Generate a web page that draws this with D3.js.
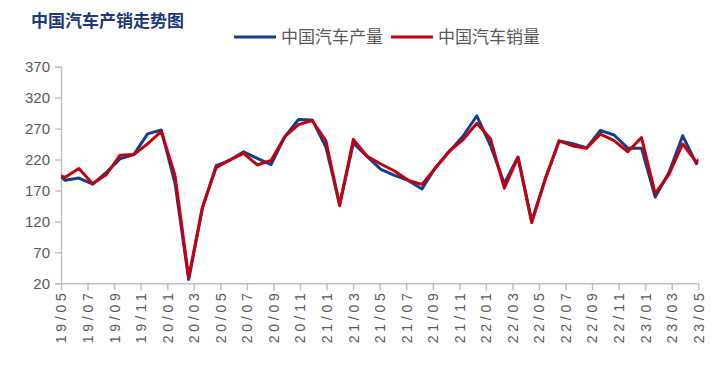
<!DOCTYPE html>
<html>
<head>
<meta charset="utf-8">
<script src="https://cdn.jsdelivr.net/npm/d3@7/dist/d3.min.js"></script>
<style>
  html, body { margin: 0; padding: 0; background: #fff; }
  svg { display: block; }
</style>
</head>
<body>
<svg id="chart" width="720" height="365"></svg>
<script>
// ---- data (万辆) ----
const months = [
  "19/04","19/05","19/06","19/07","19/08","19/09","19/10","19/11","19/12",
  "20/01","20/02","20/03","20/04","20/05","20/06","20/07","20/08","20/09","20/11","20/12",
  "21/01","21/02","21/03","21/04","21/05","21/06","21/07","21/08","21/09","21/10","21/11","21/12",
  "22/01","22/02","22/03","22/04","22/05","22/06","22/07","22/08","22/09","22/10","22/11","22/12",
  "23/01","23/02","23/03","23/04","23/05"
];
const production = [
  205.2,186.4,190.0,180.2,199.3,221.2,227.9,261.5,267.6,
  182.0,26.0,141.5,210.2,218.7,232.5,221.9,211.9,256.6,284.7,284.0,
  240.0,148.0,246.4,225.2,204.0,194.3,186.3,172.5,207.7,233.1,258.0,290.7,
  242.1,181.4,224.1,120.5,190.0,249.9,245.5,238.7,267.2,259.6,238.3,238.4,
  159.4,199.0,258.4,213.3,233.0
];
const sales = [
  198.0,191.3,205.6,180.8,195.8,227.1,228.0,245.4,265.6,
  194.1,29.0,143.0,207.0,219.4,229.8,211.2,218.6,256.9,276.5,283.1,
  250.3,145.5,252.6,225.2,212.8,201.5,186.4,179.9,206.7,233.8,252.2,278.6,
  253.1,173.7,223.4,118.1,189.0,250.2,242.0,238.3,261.0,250.5,232.6,255.6,
  164.9,196.0,245.1,215.9,238.2
];
const tickLabels = [
  "19/05","19/07","19/09","19/11","20/01","20/03","20/05","20/07","20/09","20/11",
  "21/01","21/03","21/05","21/07","21/09","21/11","22/01","22/03","22/05","22/07",
  "22/09","22/11","23/01","23/03","23/05"
];
const yTicks = [20,70,120,170,220,270,320,370];
const seriesNames = ["中国汽车产量","中国汽车销量"];
const title = "中国汽车产销走势图";

// ---- layout ----
const plotLeft = 61, plotRight = 698.3, plotTop = 66.7, plotBottom = 283.3;
const blue = "#12408c", red = "#c4000f", axisColor = "#bfbfbf", textColor = "#595959";

const svg = d3.select("#chart");

const y = d3.scaleLinear().domain([20, 370]).range([plotBottom, plotTop]);
const xData = d3.scaleLinear().domain([0, months.length - 1]).range([51.5, 710.1]);
const xLab = d3.scalePoint().domain(tickLabels).range([plotLeft, plotRight]);

// title
svg.append("text")
  .attr("x", 31).attr("y", 27)
  .attr("font-family", "'Noto Sans CJK SC', sans-serif")
  .attr("font-weight", "bold")
  .attr("font-size", 17)
  .attr("fill", "#1a3a7c")
  .text(title);

// legend
const legend = svg.append("g").attr("font-family", "'Noto Sans CJK SC', sans-serif")
  .attr("font-size", 17).attr("fill", textColor);
const legItems = [
  {name: seriesNames[0], color: blue, x: 234},
  {name: seriesNames[1], color: red, x: 391}
];
legItems.forEach(d => {
  legend.append("line").attr("x1", d.x).attr("x2", d.x + 42)
    .attr("y1", 37).attr("y2", 37)
    .attr("stroke", d.color).attr("stroke-width", 3);
  legend.append("text").attr("x", d.x + 47).attr("y", 43).text(d.name);
});

// y axis
const yAxis = svg.append("g").attr("transform", `translate(${plotLeft},0)`)
  .call(d3.axisLeft(y).tickValues(yTicks).tickSize(6).tickPadding(5).tickFormat(d3.format("d")));
yAxis.select(".domain").attr("stroke", axisColor).attr("stroke-width", 1.5);
yAxis.selectAll(".tick line").attr("stroke", axisColor).attr("stroke-width", 1.5);
yAxis.selectAll(".tick text").attr("fill", textColor)
  .attr("font-family", "'Liberation Sans', Arial, sans-serif").attr("font-size", 15);

// x axis
const xAxis = svg.append("g").attr("transform", `translate(0,${plotBottom})`)
  .call(d3.axisBottom(xLab).tickSize(7).tickSizeOuter(0));
xAxis.select(".domain").attr("stroke", axisColor).attr("stroke-width", 1.5);
xAxis.selectAll(".tick line").attr("stroke", axisColor).attr("stroke-width", 1.5);
xAxis.selectAll(".tick text")
  .attr("fill", textColor)
  .attr("font-family", "'Liberation Sans', Arial, sans-serif").attr("font-size", 14)
  .attr("text-anchor", "end")
  .attr("transform", "translate(0,10) rotate(-90)")
  .attr("x", 0).attr("y", 0).attr("dy", "0.35em")
  .attr("textLength", 50).attr("lengthAdjust", "spacing");

// clip
svg.append("clipPath").attr("id", "plotclip")
  .append("rect").attr("x", plotLeft).attr("y", 40)
  .attr("width", plotRight - plotLeft).attr("height", 260);

const line = d3.line().x((d, i) => xData(i)).y(d => y(d));
const g = svg.append("g").attr("clip-path", "url(#plotclip)");
g.append("path").datum(production).attr("d", line)
  .attr("fill", "none").attr("stroke", blue).attr("stroke-width", 3)
  .attr("stroke-linejoin", "round");
g.append("path").datum(sales).attr("d", line)
  .attr("fill", "none").attr("stroke", red).attr("stroke-width", 3)
  .attr("stroke-linejoin", "round");
</script>
</body>
</html>
